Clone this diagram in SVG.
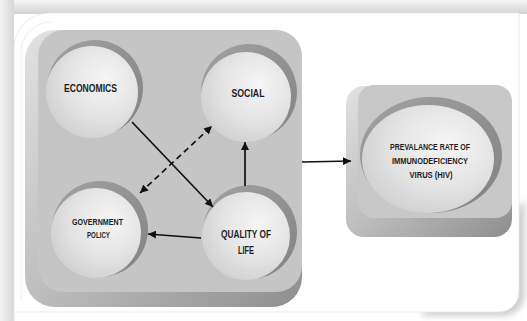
<svg xmlns="http://www.w3.org/2000/svg" width="527" height="321" viewBox="0 0 527 321">
<defs>
<style>
.lbl{font-family:"Liberation Sans",Arial,sans-serif;font-weight:bold;fill:#1e1e1e;text-anchor:middle}
.conn{stroke:#111;stroke-width:1.7;fill:none}
.dash{stroke-dasharray:6,4}
.hole{fill:url(#holeG)}
.ball{fill:url(#ballG)}
</style>
<linearGradient id="topG" x1="0" y1="0" x2="0" y2="1">
<stop offset="0" stop-color="#f6f6f6"/><stop offset="1" stop-color="#d2d2d2"/>
</linearGradient>
<linearGradient id="leftG" x1="0" y1="0" x2="1" y2="0">
<stop offset="0" stop-color="#f4f4f4"/><stop offset="1" stop-color="#d6d6d6"/>
</linearGradient>
<linearGradient id="bevelG" x1="0" y1="0" x2="1" y2="1">
<stop offset="0" stop-color="#e2e2e2"/><stop offset="0.5" stop-color="#bdbdbd"/><stop offset="1" stop-color="#8e8e8e"/>
</linearGradient>
<linearGradient id="holeG" x1="0" y1="0" x2="1" y2="1">
<stop offset="0" stop-color="#a2a2a2"/><stop offset="1" stop-color="#828282"/>
</linearGradient>
<radialGradient id="ballG" cx="0.6" cy="0.4" r="0.7" fx="0.65" fy="0.35">
<stop offset="0" stop-color="#f6f6f6"/><stop offset="0.6" stop-color="#e2e2e2"/><stop offset="1" stop-color="#cdcdcd"/>
</radialGradient>
<filter id="sh" x="-10%" y="-10%" width="120%" height="120%">
<feGaussianBlur stdDeviation="3"/>
</filter>
<marker id="ah" markerUnits="userSpaceOnUse" markerWidth="9" markerHeight="8" refX="8" refY="4" orient="auto-start-reverse">
<path d="M0,0 L8,4 L0,8 z" fill="#111"/>
</marker>
</defs>

<g id="frame">
<rect x="0" y="0" width="527" height="321" fill="#ffffff"/>
<rect x="0" y="0" width="527" height="14" fill="url(#topG)"/>
<rect x="0" y="0" width="14" height="321" fill="url(#leftG)"/>
<path d="M420,316 L503,316 A22,22 0 0 0 525,294 L525,200 Z" fill="#cfcfcf" filter="url(#sh)"/>
<path d="M14,321 L14,48 A35,35 0 0 1 49,13 L519,13 L519,292 A20,20 0 0 1 499,312 L14,312 Z" fill="#ffffff" stroke="#e6e6e6" stroke-width="0.8"/>
<path d="M21,300 L21,52 A30,30 0 0 1 51,22" fill="none" stroke="#eeeeee" stroke-width="1"/>
</g>

<g id="group-box">
<rect x="25" y="30" width="277" height="277" rx="30" fill="url(#bevelG)"/>
<rect x="38" y="30" width="264" height="262" rx="26" fill="#c5c5c5"/>
</g>

<g id="hiv-box">
<rect x="346" y="86" width="166" height="151" rx="18" fill="url(#bevelG)"/>
<rect x="358" y="85" width="154" height="133" rx="16" fill="#c8c8c8"/>
</g>

<g id="economics">
<circle class="hole" cx="95" cy="88" r="48"/>
<circle class="ball" cx="92" cy="92" r="46"/>
<text class="lbl" x="90.5" y="92" font-size="10" textLength="53" lengthAdjust="spacingAndGlyphs">ECONOMICS</text>
</g>

<g id="social">
<circle class="hole" cx="249" cy="92" r="48"/>
<circle class="ball" cx="246" cy="97" r="45"/>
<text class="lbl" x="248" y="97" font-size="10.5" textLength="33" lengthAdjust="spacingAndGlyphs">SOCIAL</text>
</g>

<g id="government-policy">
<circle class="hole" cx="100" cy="229" r="48"/>
<circle class="ball" cx="96" cy="233" r="45"/>
<text class="lbl" x="97.5" y="225" font-size="9" textLength="51" lengthAdjust="spacingAndGlyphs">GOVERNMENT</text>
<text class="lbl" x="98.5" y="238" font-size="9" textLength="23" lengthAdjust="spacingAndGlyphs">POLICY</text>
</g>

<g id="quality-of-life">
<circle class="hole" cx="250" cy="232" r="47"/>
<circle class="ball" cx="246" cy="236" r="44"/>
<text class="lbl" x="246" y="238" font-size="10" textLength="50" lengthAdjust="spacingAndGlyphs">QUALITY OF</text>
<text class="lbl" x="246" y="254" font-size="10" textLength="16" lengthAdjust="spacingAndGlyphs">LIFE</text>
</g>

<g id="hiv">
<ellipse class="hole" cx="431" cy="155" rx="71" ry="58"/>
<ellipse class="ball" cx="428" cy="159" rx="66" ry="54"/>
<text class="lbl" x="430" y="150" font-size="9" textLength="80" lengthAdjust="spacingAndGlyphs">PREVALANCE RATE  OF</text>
<text class="lbl" x="430" y="164" font-size="9" textLength="76" lengthAdjust="spacingAndGlyphs">IMMUNODEFICIENCY</text>
<text class="lbl" x="431" y="178" font-size="9" textLength="43" lengthAdjust="spacingAndGlyphs">VIRUS (HIV)</text>
</g>

<g id="connectors">
<path class="conn" d="M132,122 L213,207" marker-end="url(#ah)"/>
<path class="conn dash" d="M140,193 L212,126" marker-start="url(#ah)" marker-end="url(#ah)"/>
<path class="conn" d="M245,186 L245,142" marker-end="url(#ah)"/>
<path class="conn" d="M201,238 L148,234" marker-end="url(#ah)"/>
<path class="conn" d="M302,162 L351,161" marker-end="url(#ah)"/>
</g>
</svg>
